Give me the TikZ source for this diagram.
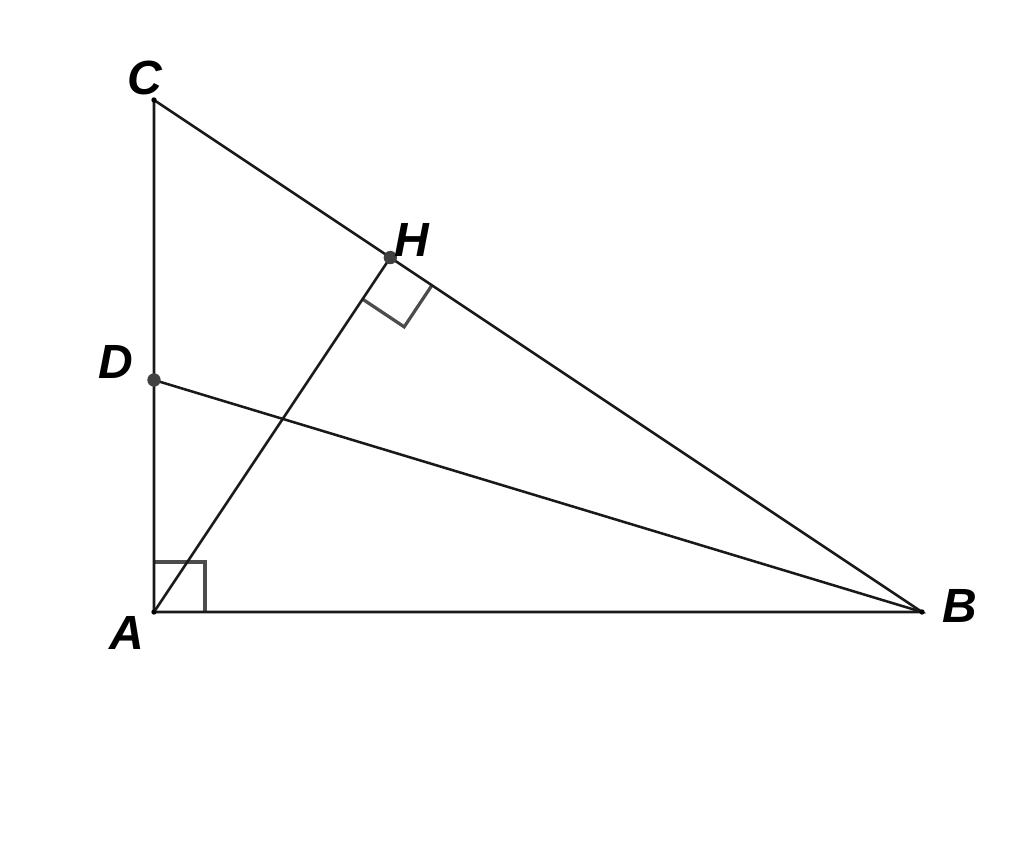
\documentclass[tikz,border=0pt]{standalone}
\usepackage{fontspec}
\setmainfont{Liberation Sans}
\usetikzlibrary{calc}
\begin{document}
\begin{tikzpicture}[x=0.75pt,y=-0.75pt,
  seg/.style={line width=1.9pt,black!90},
  ra/.style={line width=2.4pt,black!70},
  lbl/.style={font=\fontsize{36}{40}\selectfont\bfseries\itshape,inner sep=0pt},
  bigdot/.style={circle,fill=black!75,minimum size=10pt,inner sep=0pt},
  smalldot/.style={circle,fill=black,minimum size=4pt,inner sep=0pt}]
\useasboundingbox (0,0) rectangle (1024,862);
\coordinate (A) at (154,612);
\coordinate (B) at (922,612);
\coordinate (C) at (154,100);
\coordinate (D) at (154,380);
\coordinate (H) at ($(C)!0.3077!(B)$);
% right angle marks
\draw[ra] ($(A)+(0,-50)$) -- ++(51,0) -- ++(0,50);
\coordinate (h1) at ($(H)!37.5pt!(B)$);
\coordinate (h2) at ($(H)!37.5pt!(A)$);
\coordinate (h3) at ($(h1)+(h2)-(H)$);
\draw[ra] (h1) -- (h3) -- (h2);
% segments
\draw[seg] (A) -- (B) -- (C) -- cycle;
\draw[seg] (A) -- (H);
\draw[seg] (D) -- (B);
% dots
\node[smalldot] (a) at (A) {};
\node[smalldot] (b) at (B) {};
\node[smalldot] (c) at (C) {};
\node[bigdot] (d) at (D) {};
\node[bigdot] (h) at (H) {};
% labels
\node[lbl] (la) at (127,633) {A};
\node[lbl] (lb) at (960,606) {B};
\node[lbl] (lc) at (145,78) {C};
\node[lbl] (ld) at (116,362) {D};
\node[lbl] (lh) at (412,240) {H};
\end{tikzpicture}
\end{document}
